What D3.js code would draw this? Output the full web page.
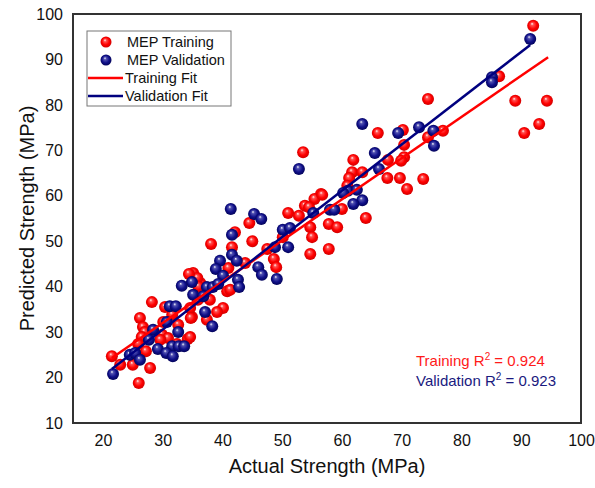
<!DOCTYPE html>
<html>
<head>
<meta charset="utf-8">
<script src="https://cdn.jsdelivr.net/npm/d3@7"></script>
<style>
  html, body { margin: 0; padding: 0; background: #fff; overflow: hidden; width: 100%; height: 100%; }
  .div-chart { width: 100%; height: 100%; }
  svg { display: block; }
  text { font-family: "Liberation Sans", Arial, sans-serif; }
</style>
</head>
<body>
<div class="div-chart"></div>
<script>
// MEP training points [actual, predicted]
const trainingPts = [
  [92, 97.4], [86.3, 86.3], [89, 80.9], [94.3, 80.9], [90.5, 73.8], [93, 75.8],
  [76.9, 74.3], [74.4, 81.3], [66, 73.8], [70.2, 74.5], [74.4, 72.9], [70.4, 71.2],
  [53.5, 69.6], [61.9, 67.9], [67.7, 67.9], [70.4, 68.5], [69.9, 67.7], [61.7, 65.2],
  [63.4, 65.2], [61.2, 63.9], [67.6, 63.9], [69.7, 63.9], [73.6, 63.7], [70.9, 61.5],
  [60.9, 62.2], [56.5, 60.4], [55.4, 59.3], [56.7, 60.2], [53.8, 57.8], [54.5, 57.5],
  [51, 56.2], [52.8, 55.6], [60, 57.1], [64, 55.1], [57.8, 53.8], [59.2, 53.1],
  [54.7, 53.1], [55, 50.9], [50.1, 50.9], [57.8, 48.3], [54.7, 47.2], [44.5, 54],
  [42.1, 52], [38.1, 49.4], [45, 50], [41.6, 48.7], [47.5, 48.3], [48.6, 46.1],
  [49, 44.3], [41, 44.1], [43.8, 45.2], [40.8, 39], [41.3, 39.3], [36.3, 40.8],
  [35.1, 43], [35.8, 41.9], [36, 40], [37.9, 37.1], [35.9, 37.1], [40.1, 35.3],
  [39.1, 34.4], [37.4, 32.7], [34.9, 33.3], [34.4, 42.8], [28.2, 36.6], [30.4, 35.5],
  [34.6, 35.3], [26.2, 33.1], [31.6, 33.8], [34.7, 33.1], [30.1, 32.2], [26.7, 31.1],
  [32.6, 31.6], [27, 30], [29.9, 29.4], [26.5, 28.9], [30.9, 28.7], [34.2, 28.5],
  [34.6, 28.9], [29.6, 28.3], [25.9, 27.4], [32.4, 27.4], [27.2, 25.8], [21.5, 24.7],
  [25, 22.8], [22.9, 22.8], [27.9, 22.1], [26, 18.8]
];

// MEP validation points [actual, predicted]
const validationPts = [
  [91.5, 94.5], [85.1, 86.1], [85.1, 85.0], [63.4, 75.8], [69.4, 73.8], [72.9, 75.1],
  [75.3, 74.3], [75.4, 71], [52.8, 65.9], [65.5, 69.4], [66.2, 65.9], [61, 61.1],
  [62.5, 61.3], [60.2, 60.6], [63.4, 59], [61.9, 58.2], [55.2, 56.2], [58, 56.9],
  [58.7, 56.9], [50.1, 52.5], [51.3, 52.9], [51, 48.7], [41.4, 57.1], [45.3, 56],
  [46.5, 54.9], [41.6, 51.4], [48.8, 48.7], [49.1, 41.7], [46, 44.3], [46.6, 42.6],
  [39.6, 45.7], [41.6, 47], [42.4, 45.7], [38.9, 43.9], [40.1, 42.4], [42.6, 41.5],
  [42.8, 39.9], [37.4, 39.9], [38.4, 39.9], [39.3, 40.6], [34.9, 41], [35.1, 38.2],
  [36.8, 37.9], [37.1, 34.4], [38.3, 31.3], [33.2, 40.2], [31.2, 35.7], [32.2, 35.7],
  [30.7, 32.2], [28.4, 30.5], [32.6, 30], [27.7, 28.3], [29.2, 26.3], [31.6, 26.9],
  [32.7, 26.9], [33.6, 26.9], [30.6, 25.4], [31.7, 24.7], [24.5, 25], [25.4, 25.4],
  [26.2, 23.9], [21.7, 20.8]
];

// fit line end points
const trainingFit = [[21.5, 24.3], [94.5, 90.5]];
const validationFit = [[21.5, 21.9], [91.5, 93.2]];

const xTicks = [20, 30, 40, 50, 60, 70, 80, 90, 100];
const yTicks = [10, 20, 30, 40, 50, 60, 70, 80, 90, 100];

const legendItems = ['MEP Training', 'MEP Validation', 'Training Fit', 'Validation Fit'];

const width = 595, height = 488;
const margin = {left: 73, right: 14, top: 14, bottom: 65};
const innerWidth = width - margin.left - margin.right;
const innerHeight = height - margin.top - margin.bottom;

const red = '#ff0000', navy = '#00007f';

const svg = d3.select('.div-chart')
    .append('svg')
    .attr('viewBox', `0 0 ${width} ${height}`)
    .attr('preserveAspectRatio', 'xMidYMid meet')
    .attr('width', '100%')
    .attr('height', '100%');

// sphere look for the markers
const defs = svg.append('defs');
function sphere(id, light, mid, dark) {
    const gr = defs.append('radialGradient')
        .attr('id', id)
        .attr('cx', '50%').attr('cy', '50%').attr('r', '55%')
        .attr('fx', '40%').attr('fy', '32%');
    gr.append('stop').attr('offset', '0%').attr('stop-color', '#ffffff');
    gr.append('stop').attr('offset', '22%').attr('stop-color', light);
    gr.append('stop').attr('offset', '60%').attr('stop-color', mid);
    gr.append('stop').attr('offset', '100%').attr('stop-color', dark);
}
sphere('ballRed', '#ff5050', '#ff0000', '#c80000');
sphere('ballBlue', '#5050b0', '#10108a', '#000050');

const g = svg.append('g')
    .attr('transform', `translate(${margin.left},${margin.top})`);

const xScale = d3.scaleLinear().domain([15, 100]).range([0, innerWidth]);
const yScale = d3.scaleLinear().domain([10, 100]).range([innerHeight, 0]);

// tick labels (no tick marks in the original)
g.append('g')
    .attr('transform', `translate(0,${innerHeight + 12})`)
    .call(d3.axisBottom(xScale).tickValues(xTicks).tickSize(0).tickPadding(0))
    .call(a => a.select('.domain').remove())
    .selectAll('text')
    .attr('font-size', 16)
    .attr('fill', '#111')
    .attr('font-family', '"Liberation Sans", Arial, sans-serif');

g.append('g')
    .attr('transform', 'translate(-10,0)')
    .call(d3.axisLeft(yScale).tickValues(yTicks).tickSize(0).tickPadding(0))
    .call(a => a.select('.domain').remove())
    .selectAll('text')
    .attr('font-size', 16)
    .attr('fill', '#111')
    .attr('font-family', '"Liberation Sans", Arial, sans-serif');

// points
g.selectAll('.tr')
    .data(trainingPts)
    .enter().append('circle')
    .attr('class', 'tr')
    .attr('cx', d => xScale(d[0]))
    .attr('cy', d => yScale(d[1]))
    .attr('r', 6)
    .attr('fill', 'url(#ballRed)');

g.selectAll('.va')
    .data(validationPts)
    .enter().append('circle')
    .attr('class', 'va')
    .attr('cx', d => xScale(d[0]))
    .attr('cy', d => yScale(d[1]))
    .attr('r', 6)
    .attr('fill', 'url(#ballBlue)');

// fit lines
const line = d3.line().x(d => xScale(d[0])).y(d => yScale(d[1]));
g.append('path').datum(trainingFit)
    .attr('d', line).attr('stroke', red).attr('stroke-width', 2.5).attr('fill', 'none');
g.append('path').datum(validationFit)
    .attr('d', line).attr('stroke', navy).attr('stroke-width', 2.5).attr('fill', 'none');

// frame
g.append('rect')
    .attr('width', innerWidth)
    .attr('height', innerHeight)
    .attr('fill', 'none')
    .attr('stroke', '#333')
    .attr('stroke-width', 2);

// legend
const lg = svg.append('g').attr('transform', 'translate(87,31)');
lg.append('rect')
    .attr('width', 144).attr('height', 75)
    .attr('fill', '#fff').attr('stroke', '#777').attr('stroke-width', 1);
legendItems.forEach((name, i) => {
    const y = 11 + i * 18;
    if (i < 2) {
        lg.append('circle').attr('cx', 19).attr('cy', y).attr('r', 5.5)
            .attr('fill', i === 0 ? 'url(#ballRed)' : 'url(#ballBlue)');
    } else {
        lg.append('line').attr('x1', 1).attr('x2', 36).attr('y1', y).attr('y2', y)
            .attr('stroke', i === 2 ? red : navy).attr('stroke-width', 2.5);
    }
    lg.append('text')
        .attr('x', i < 2 ? 40 : 38).attr('y', y + 5)
        .attr('font-size', 14.5).attr('fill', '#111')
        .text(name);
});

// R² notes
const note = svg.append('g').attr('font-size', 15);
const t1 = note.append('text').attr('x', 416).attr('y', 366).attr('fill', '#ff1a1a');
t1.append('tspan').text('Training R');
t1.append('tspan').attr('dy', -6).attr('font-size', 10).text('2');
t1.append('tspan').attr('dy', 6).text(' = 0.924');
const t2 = note.append('text').attr('x', 416).attr('y', 386).attr('fill', '#1a1a80');
t2.append('tspan').text('Validation R');
t2.append('tspan').attr('dy', -6).attr('font-size', 10).text('2');
t2.append('tspan').attr('dy', 6).text(' = 0.923');

// axis titles
svg.append('text')
    .attr('x', margin.left + innerWidth / 2).attr('y', 473)
    .attr('text-anchor', 'middle').attr('font-size', 20).attr('fill', '#111')
    .text('Actual Strength (MPa)');
svg.append('text')
    .attr('transform', `translate(34,${margin.top + innerHeight / 2}) rotate(-90)`)
    .attr('text-anchor', 'middle').attr('font-size', 20).attr('fill', '#111')
    .text('Predicted Strength (MPa)');
</script>
</body>
</html>
